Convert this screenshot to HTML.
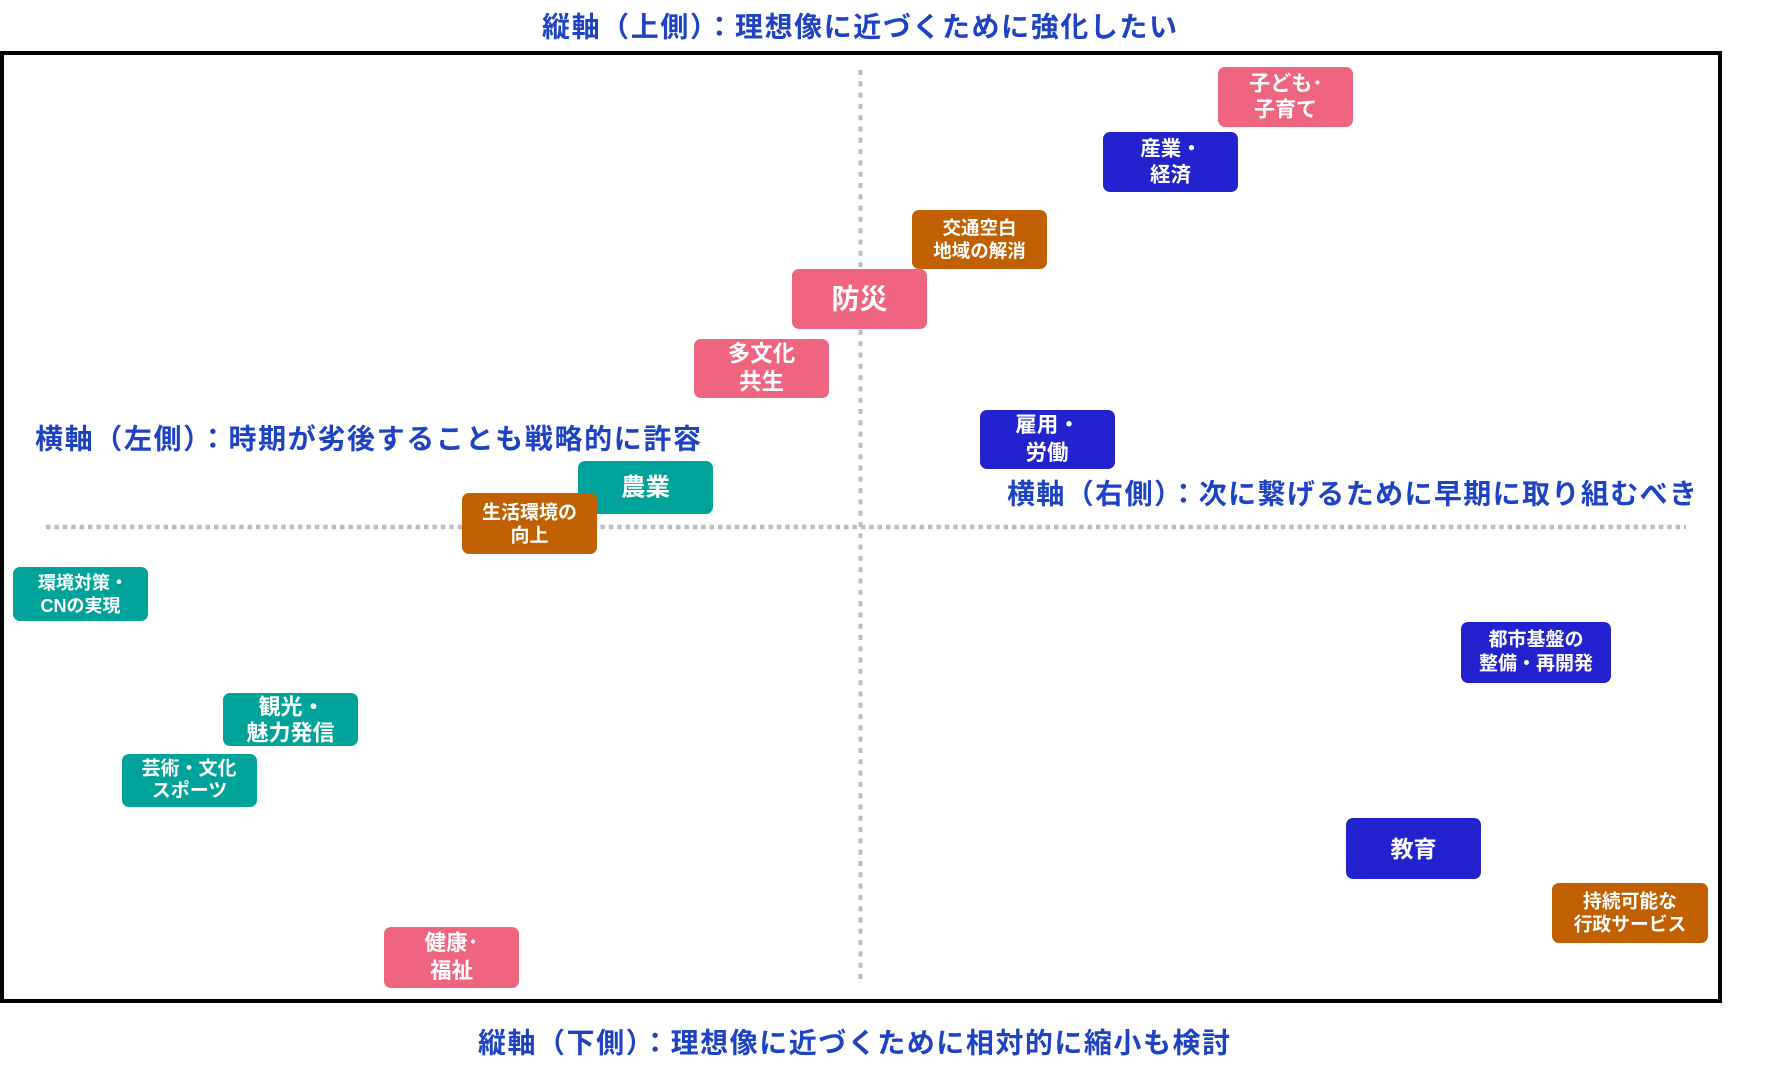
<!DOCTYPE html>
<html>
<head>
<meta charset="utf-8">
<style>
  html, body { margin: 0; padding: 0; background: #ffffff; }
  body { width: 1765px; height: 1080px; overflow: hidden; }
  svg { display: block; }
  text { font-family: "Liberation Sans", "Noto Sans CJK JP", sans-serif; font-weight: bold; }
  .lbl { fill: #1d42c4; font-size: 28px; }
  .bx { fill: #ffffff; }
</style>
</head>
<body>
<svg width="1765" height="1080" viewBox="0 0 1765 1080" xmlns="http://www.w3.org/2000/svg">
  <rect x="0" y="0" width="1765" height="1080" fill="#ffffff"/>

  <!-- frame -->
  <rect x="2" y="53" width="1718" height="948" fill="none" stroke="#000000" stroke-width="4"/>

  <!-- axis labels -->
  <text class="lbl" x="542" y="27" dominant-baseline="central" textLength="635" lengthAdjust="spacing">縦軸（上側）：理想像に近づくために強化したい</text>
  <text class="lbl" x="478" y="1043" dominant-baseline="central" textLength="752" lengthAdjust="spacing">縦軸（下側）：理想像に近づくために相対的に縮小も検討</text>
  <text class="lbl" x="35" y="439" dominant-baseline="central" textLength="666" lengthAdjust="spacing">横軸（左側）：時期が劣後することも戦略的に許容</text>
  <text class="lbl" x="1007" y="494" dominant-baseline="central" textLength="690" lengthAdjust="spacing">横軸（右側）：次に繋げるために早期に取り組むべき</text>

  <!-- dotted axes -->
  <line x1="860.5" y1="70" x2="860.5" y2="982" stroke="#bdbdbd" stroke-width="4" stroke-dasharray="5 6.3"/>
  <line x1="46" y1="527" x2="1686" y2="527" stroke="#bdbdbd" stroke-width="4.5" stroke-dasharray="4.5 3.9"/>

  <!-- boxes -->
  <!-- 子ども・子育て -->
  <rect x="1218" y="67" width="135" height="60" rx="7" fill="#ef6580"/>
  <text class="bx" font-size="21" x="1286" y="84" text-anchor="middle" dominant-baseline="central">子ども･</text>
  <text class="bx" font-size="21" x="1285.5" y="110" text-anchor="middle" dominant-baseline="central">子育て</text>

  <!-- 産業・経済 -->
  <rect x="1103" y="132" width="135" height="60" rx="7" fill="#2222ce"/>
  <text class="bx" font-size="20.5" x="1171" y="149" text-anchor="middle" dominant-baseline="central">産業・</text>
  <text class="bx" font-size="20.5" x="1170.5" y="175" text-anchor="middle" dominant-baseline="central">経済</text>

  <!-- 交通空白地域の解消 -->
  <rect x="912" y="210" width="135" height="59" rx="7" fill="#c06000"/>
  <text class="bx" font-size="18.5" x="979.5" y="228" text-anchor="middle" dominant-baseline="central">交通空白</text>
  <text class="bx" font-size="18.5" x="979.5" y="251" text-anchor="middle" dominant-baseline="central">地域の解消</text>

  <!-- 防災 -->
  <rect x="792" y="269" width="135" height="60" rx="7" fill="#ef6580"/>
  <text class="bx" font-size="28" x="859.5" y="299" text-anchor="middle" dominant-baseline="central">防災</text>

  <!-- 多文化共生 -->
  <rect x="694" y="339" width="135" height="59" rx="7" fill="#ef6580"/>
  <text class="bx" font-size="22.5" x="761.5" y="354" text-anchor="middle" dominant-baseline="central">多文化</text>
  <text class="bx" font-size="22.5" x="761.5" y="382" text-anchor="middle" dominant-baseline="central">共生</text>

  <!-- 雇用・労働 -->
  <rect x="980" y="410" width="135" height="59" rx="7" fill="#2222ce"/>
  <text class="bx" font-size="21.5" x="1047.5" y="425" text-anchor="middle" dominant-baseline="central">雇用・</text>
  <text class="bx" font-size="21.5" x="1047" y="453" text-anchor="middle" dominant-baseline="central">労働</text>

  <!-- 農業 -->
  <rect x="578" y="461" width="135" height="53" rx="7" fill="#00a39a"/>
  <text class="bx" font-size="24.5" x="645.5" y="488" text-anchor="middle" dominant-baseline="central">農業</text>

  <!-- 生活環境の向上 -->
  <rect x="462" y="493" width="135" height="61" rx="7" fill="#c06000"/>
  <text class="bx" font-size="19" x="529.5" y="513" text-anchor="middle" dominant-baseline="central">生活環境の</text>
  <text class="bx" font-size="19" x="529.5" y="536" text-anchor="middle" dominant-baseline="central">向上</text>

  <!-- 環境対策・CNの実現 -->
  <rect x="13" y="567" width="135" height="54" rx="7" fill="#00a39a"/>
  <text class="bx" font-size="18" x="83" y="583" text-anchor="middle" dominant-baseline="central">環境対策・</text>
  <text class="bx" font-size="18" x="80.5" y="606" text-anchor="middle" dominant-baseline="central">CNの実現</text>

  <!-- 都市基盤の整備・再開発 -->
  <rect x="1461" y="622" width="150" height="61" rx="7" fill="#2222ce"/>
  <text class="bx" font-size="19" x="1536" y="640" text-anchor="middle" dominant-baseline="central">都市基盤の</text>
  <text class="bx" font-size="19" x="1536" y="664" text-anchor="middle" dominant-baseline="central">整備・再開発</text>

  <!-- 観光・魅力発信 -->
  <rect x="223" y="693" width="135" height="53" rx="7" fill="#00a39a"/>
  <text class="bx" font-size="22" x="291.5" y="707" text-anchor="middle" dominant-baseline="central">観光・</text>
  <text class="bx" font-size="22" x="290.5" y="733" text-anchor="middle" dominant-baseline="central">魅力発信</text>

  <!-- 芸術・文化スポーツ -->
  <rect x="122" y="754" width="135" height="53" rx="7" fill="#00a39a"/>
  <text class="bx" font-size="19" x="189" y="769" text-anchor="middle" dominant-baseline="central">芸術・文化</text>
  <text class="bx" font-size="19" x="189.5" y="791" text-anchor="middle" dominant-baseline="central">スポーツ</text>

  <!-- 教育 -->
  <rect x="1346" y="818" width="135" height="61" rx="7" fill="#2222ce"/>
  <text class="bx" font-size="23" x="1413.5" y="849" text-anchor="middle" dominant-baseline="central">教育</text>

  <!-- 持続可能な行政サービス -->
  <rect x="1552" y="883" width="156" height="60" rx="7" fill="#c06000"/>
  <text class="bx" font-size="18.8" x="1630" y="901" text-anchor="middle" dominant-baseline="central">持続可能な</text>
  <text class="bx" font-size="18.8" x="1630" y="924" text-anchor="middle" dominant-baseline="central">行政サービス</text>

  <!-- 健康・福祉 -->
  <rect x="384" y="927" width="135" height="61" rx="7" fill="#ef6580"/>
  <text class="bx" font-size="21.5" x="451.5" y="943" text-anchor="middle" dominant-baseline="central">健康･</text>
  <text class="bx" font-size="21.5" x="451.5" y="971" text-anchor="middle" dominant-baseline="central">福祉</text>
</svg>
</body>
</html>
